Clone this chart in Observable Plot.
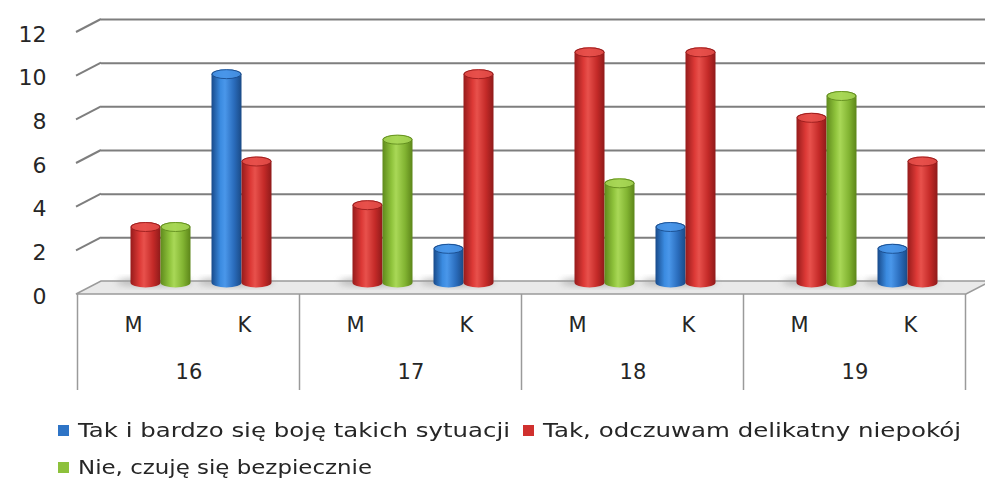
<!DOCTYPE html>
<html><head><meta charset="utf-8">
<script src="https://cdn.jsdelivr.net/npm/d3@7"></script>
<script src="https://cdn.jsdelivr.net/npm/@observablehq/plot@0.6"></script>
<style>
body{margin:0;background:#fff;}
#chart{position:relative;width:985px;}
#legend{font-family:"DejaVu Sans",sans-serif;font-size:20px;color:#262626;position:relative;height:84px;}
.item{position:absolute;white-space:nowrap;display:flex;align-items:center;}
.sw{width:11px;height:11px;display:inline-block;margin-right:9px;}
.tx{display:inline-block;transform-origin:left center;}
</style></head><body>
<div id="chart"></div>
<div id="legend"></div>
<script>
const ages = ["16","17","18","19"];
const genders = ["M","K"];
const seriesNames = ["Tak i bardzo się boję takich sytuacji","Tak, odczuwam delikatny niepokój","Nie, czuję się bezpiecznie"];
const seriesColors = ["#2e74c6","#d0302e","#8dc13c"];
// values per slot: 16M,16K,17M,17K,18M,18K,19M,19K
const blueValues  = [0,10,0,2,0,3,0,2];
const redValues   = [3,6,4,10,11,11,8,6];
const greenValues = [3,0,7,0,5,0,9,0];
const yTicks = [0,2,4,6,8,10,12];

const slots = [];
ages.forEach(a => genders.forEach(g => slots.push({slot: a + " " + g, age: a, gender: g})));
const seriesValues = [blueValues, redValues, greenValues];
const rows = seriesValues.map((vals, s) => slots.map((d, i) => ({slot: d.slot, series: s, value: vals[i]})).filter(d => d.value > 0));

const DX = 25, DY = -13;      // 3D depth offset
const seriesOffset = [-30, 0, 30];
const gradIds = ["gBlue","gRed","gGreen"];

const chart = Plot.plot({
  width: 985, height: 400,
  marginLeft: 76, marginRight: 19, marginTop: 32, marginBottom: 106,
  style: {fontFamily: "DejaVu Sans, sans-serif", background: "white", color: "#262626"},
  x: {domain: slots.map(d => d.slot), paddingInner: 0.73, paddingOuter: 0.365, axis: null},
  y: {domain: [0, 12], axis: null},
  marks: [
    Plot.ruleY(yTicks.filter(t => t > 0), {y: d => d, dx: DX, dy: DY, stroke: "#7e7e7e", strokeWidth: 2}),
    ...rows.map((r, s) => Plot.barY(r, {x: "slot", y: "value", dx: DX / 2 + seriesOffset[s], dy: DY / 2,
      fill: `url(#${gradIds[s]})`, rx: 15, ry: 5, className: "cyl cyl" + s})),
    Plot.text(yTicks, {y: d => d, text: d => String(d), frameAnchor: "left", dx: -30, dy: 2, textAnchor: "end", fontSize: 22, fill: "#262626"}),
    Plot.text(slots, {x: "slot", text: "gender", frameAnchor: "bottom", dy: 37, fontSize: 21, fill: "#262626"}),
    Plot.text(slots.filter(d => d.gender === "K"), {x: "slot", text: "age", frameAnchor: "bottom", dy: 84, dx: -55.6, fontSize: 21, fill: "#262626"})
  ]
});
document.getElementById("chart").appendChild(chart);

const svg = d3.select(chart);
const xs = chart.scale("x"), ys = chart.scale("y");
const defs = svg.insert("defs", ":first-child");
const grads = [
  ["#184a8a","#3b8be0","#4a97ea","#2a6cbc","#1a4a86"],
  ["#961b1b","#dc3936","#e8514c","#c42a28","#8f1a1a"],
  ["#5f8a1c","#8fc33c","#a9d857","#82b432","#5c8519"]
];
grads.forEach((stops, s) => {
  const g = defs.append("linearGradient").attr("id", gradIds[s]).attr("x1", 0).attr("x2", 1).attr("y1", 0).attr("y2", 0);
  [0, 0.3, 0.45, 0.75, 1].forEach((o, i) => g.append("stop").attr("offset", o).attr("stop-color", stops[i]));
});
const blur = defs.append("filter").attr("id", "blur").attr("x", "-50%").attr("y", "-50%").attr("width", "200%").attr("height", "200%");
blur.append("feGaussianBlur").attr("stdDeviation", 3);

const y0 = ys.apply(0);
const xLeft = 76, xRight = 966;
// floor + left stubs, under everything
const under = svg.insert("g", "defs + *");
under.append("polygon")
  .attr("points", [[xLeft, y0], [xRight, y0], [xRight + DX, y0 + DY], [xLeft + DX, y0 + DY]].map(p => p.join(",")).join(" "))
  .attr("fill", "#e9e9e9").attr("stroke", "#9a9a9a").attr("stroke-width", 1.5);
yTicks.filter(t => t > 0).forEach(t => {
  const yy = ys.apply(t);
  under.append("line").attr("x1", xLeft).attr("y1", yy).attr("x2", xLeft + DX).attr("y2", yy + DY)
    .attr("stroke", "#7e7e7e").attr("stroke-width", 2);
});
// shadows on floor under bars
svg.selectAll(".cyl rect").each(function() {
  const r = d3.select(this);
  const x = +r.attr("x"), w = +r.attr("width");
  const tr = this.parentNode.getAttribute("transform") || "";
  under.append("ellipse").attr("cx", x + w / 2 - 6).attr("cy", y0 + DY / 2 + 1).attr("rx", w / 2 + 8).attr("ry", 4)
    .attr("fill", "#9a9a9a").attr("opacity", 0.6).attr("filter", "url(#blur)").attr("transform", tr);
});
// cylinder tops
svg.selectAll(".cyl rect").each(function() {
  const r = d3.select(this);
  const x = +r.attr("x"), y = +r.attr("y"), w = +r.attr("width");
  const s = gradIds.findIndex((id, i) => this.parentNode.classList.contains("cyl" + i));
  d3.select(this.parentNode).append("ellipse")
    .attr("cx", x + w / 2).attr("cy", y + 5).attr("rx", w / 2 - 0.5).attr("ry", 4.5)
    .attr("fill", grads[s][2]).attr("stroke", grads[s][0]).attr("stroke-width", 1).attr("opacity", 0.85);
});
// category box separators
const bw = xs.bandwidth, step = xs.step;
const bounds = ages.map(a => xs.apply(a + " M") + bw / 2 - step / 2).concat([xs.apply(ages[ages.length - 1] + " K") + bw / 2 + step / 2]);
const boxG = svg.append("g");
bounds.forEach(b => boxG.append("line").attr("x1", b).attr("x2", b).attr("y1", y0).attr("y2", y0 + 96)
  .attr("stroke", "#9a9a9a").attr("stroke-width", 1.5));

// legend
const legend = document.getElementById("legend");
const items = [
  {s: 0, left: 58, top: 30, target: 432},
  {s: 1, left: 523, top: 30, target: 418},
  {s: 2, left: 58, top: 67, target: 294}
];
items.forEach(it => {
  const div = document.createElement("div");
  div.className = "item";
  div.style.left = it.left + "px";
  div.style.top = (it.top - 12) + "px";
  div.style.height = "24px";
  const sw = document.createElement("span");
  sw.className = "sw"; sw.style.background = seriesColors[it.s];
  const tx = document.createElement("span");
  tx.className = "tx";
  tx.textContent = seriesNames[it.s];
  div.appendChild(sw); div.appendChild(tx);
  legend.appendChild(div);
  const w = tx.getBoundingClientRect().width;
  tx.style.transform = `scaleX(${it.target / w})`;
});
</script>
</body></html>
